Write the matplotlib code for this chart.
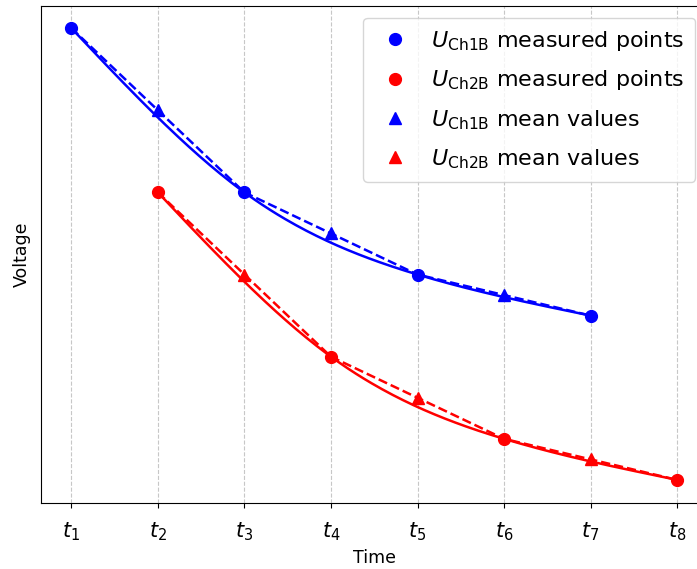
import numpy as np
import matplotlib
matplotlib.use("Agg")
import matplotlib.pyplot as plt

# Time instants (tick positions) and their labels
t_positions = [1, 2, 3, 4, 5, 6, 7, 8]
t_labels = [r"$t_1$", r"$t_2$", r"$t_3$", r"$t_4$", r"$t_5$", r"$t_6$", r"$t_7$", r"$t_8$"]

# Channel 1B: measured points and mean values
ch1_meas_t = [1, 3, 5, 7]
ch1_meas_v = [12.0, 8.0, 6.0, 5.0]
ch1_mean_t = [2, 4, 6]
ch1_mean_v = [10.0, 7.0, 5.5]

# Channel 2B: measured points and mean values
ch2_meas_t = [2, 4, 6, 8]
ch2_meas_v = [8.0, 4.0, 2.0, 1.0]
ch2_mean_t = [3, 5, 7]
ch2_mean_v = [6.0, 3.0, 1.5]


def natural_spline(x, y, n=200):
    """Natural cubic spline through (x, y), sampled on n points."""
    x = np.asarray(x, float)
    y = np.asarray(y, float)
    m = len(x)
    h = np.diff(x)
    A = np.zeros((m, m))
    b = np.zeros(m)
    A[0, 0] = A[-1, -1] = 1.0
    for i in range(1, m - 1):
        A[i, i - 1] = h[i - 1]
        A[i, i] = 2 * (h[i - 1] + h[i])
        A[i, i + 1] = h[i]
        b[i] = 6 * ((y[i + 1] - y[i]) / h[i] - (y[i] - y[i - 1]) / h[i - 1])
    M = np.linalg.solve(A, b)
    xs = np.linspace(x[0], x[-1], n)
    idx = np.clip(np.searchsorted(x, xs) - 1, 0, m - 2)
    x0, x1 = x[idx], x[idx + 1]
    hh = x1 - x0
    a = (x1 - xs) / hh
    c = (xs - x0) / hh
    ys = (a * y[idx] + c * y[idx + 1]
          + ((a ** 3 - a) * M[idx] + (c ** 3 - c) * M[idx + 1]) * hh ** 2 / 6)
    return xs, ys


def merged(t1, v1, t2, v2):
    pts = sorted(zip(list(t1) + list(t2), list(v1) + list(v2)))
    return [p[0] for p in pts], [p[1] for p in pts]


fig = plt.figure(figsize=(6.97, 5.69), dpi=100)
ax = fig.add_axes([41 / 697, 66.5 / 569, (707.5 - 41) / 697, (563.5 - 66.5) / 569])

lw = 1.8
ms = 8.5

for mt, mv, at, av, col in [
    (ch1_meas_t, ch1_meas_v, ch1_mean_t, ch1_mean_v, "blue"),
    (ch2_meas_t, ch2_meas_v, ch2_mean_t, ch2_mean_v, "red"),
]:
    xs, ys = natural_spline(mt, mv)
    ax.plot(xs, ys, color=col, lw=lw, zorder=2)
    dt, dv = merged(mt, mv, at, av)
    ax.plot(dt, dv, color=col, lw=lw, ls="--", zorder=2)

h1, = ax.plot(ch1_meas_t, ch1_meas_v, "o", color="blue", ms=ms, zorder=3,
              label=r"$U_{\mathrm{Ch1B}}$ measured points")
h2, = ax.plot(ch2_meas_t, ch2_meas_v, "o", color="red", ms=ms, zorder=3,
              label=r"$U_{\mathrm{Ch2B}}$ measured points")
h3, = ax.plot(ch1_mean_t, ch1_mean_v, "^", color="blue", ms=ms, zorder=3,
              label=r"$U_{\mathrm{Ch1B}}$ mean values")
h4, = ax.plot(ch2_mean_t, ch2_mean_v, "^", color="red", ms=ms, zorder=3,
              label=r"$U_{\mathrm{Ch2B}}$ mean values")

ax.set_xticks(t_positions)
ax.set_xticklabels(t_labels, fontsize=15)
ax.tick_params(axis="x", pad=9.5)
ax.set_yticks([])
ax.set_xlabel("Time", fontsize=12.5)
ax.set_ylabel("Voltage", fontsize=12.5, labelpad=7)
ax.grid(True, axis="x", linestyle="--", alpha=0.7)

ax.legend(handles=[h1, h2, h3, h4], loc="upper right", fontsize=16,
          labelspacing=0.7, handletextpad=0.65, handlelength=1.9,
          borderpad=0.5, borderaxespad=0.55)

fig.savefig("out.png", dpi=100)
